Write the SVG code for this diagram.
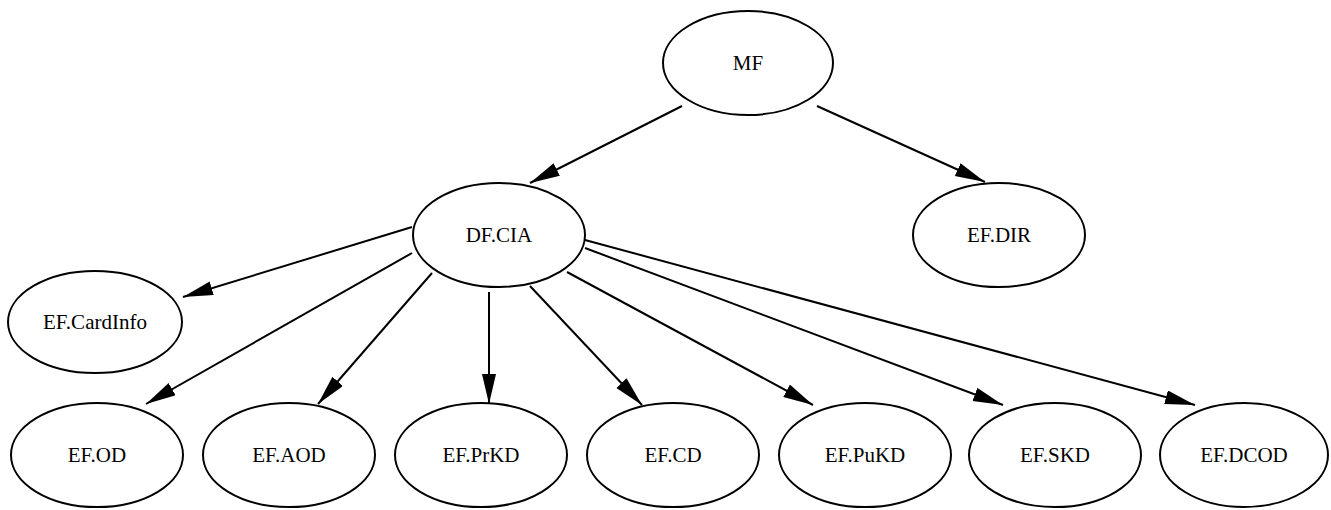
<svg xmlns="http://www.w3.org/2000/svg" width="1331" height="510" viewBox="0 0 1331 510">
<defs>
<style>
.node ellipse{fill:none;stroke:#000;stroke-width:2}
.node text{font-family:"Liberation Serif","Times New Roman",serif;font-size:21px;fill:#000;text-anchor:middle}
.edges line{stroke:#000;stroke-width:2;marker-end:url(#arr)}
</style>
<marker id="arr" markerUnits="userSpaceOnUse" markerWidth="32" markerHeight="16" refX="30" refY="7" orient="auto">
<path d="M0,0 L30,7 L0,14 Z" fill="#000"/>
</marker>
</defs>
<rect width="1331" height="510" fill="#fff"/>
<g class="edges" id="edges">
<line x1="682" y1="106" x2="530" y2="183"/>
<line x1="817" y1="106" x2="985" y2="182"/>
<line x1="412" y1="227" x2="183" y2="297"/>
<line x1="412" y1="253" x2="146" y2="404"/>
<line x1="432" y1="273" x2="318" y2="404"/>
<line x1="489" y1="292" x2="489" y2="404"/>
<line x1="530" y1="286" x2="642" y2="405"/>
<line x1="567" y1="272" x2="813" y2="405"/>
<line x1="585" y1="248" x2="1003" y2="405"/>
<line x1="585" y1="240" x2="1195" y2="405"/>
</g>
<g class="node" id="MF"><ellipse cx="748" cy="63" rx="85" ry="52"/><text x="748" y="70">MF</text></g>
<g class="node" id="DF.CIA"><ellipse cx="499" cy="235" rx="86" ry="52"/><text x="499" y="242">DF.CIA</text></g>
<g class="node" id="EF.DIR"><ellipse cx="999" cy="235" rx="86" ry="52"/><text x="999" y="242">EF.DIR</text></g>
<g class="node" id="EF.CardInfo"><ellipse cx="95" cy="322" rx="87" ry="51"/><text x="95" y="329">EF.CardInfo</text></g>
<g class="node" id="EF.OD"><ellipse cx="97" cy="455" rx="86" ry="52"/><text x="97" y="462">EF.OD</text></g>
<g class="node" id="EF.AOD"><ellipse cx="289" cy="455" rx="86" ry="52"/><text x="289" y="462">EF.AOD</text></g>
<g class="node" id="EF.PrKD"><ellipse cx="481" cy="455" rx="86" ry="52"/><text x="481" y="462">EF.PrKD</text></g>
<g class="node" id="EF.CD"><ellipse cx="673" cy="455" rx="86" ry="52"/><text x="673" y="462">EF.CD</text></g>
<g class="node" id="EF.PuKD"><ellipse cx="865" cy="455" rx="86" ry="52"/><text x="865" y="462">EF.PuKD</text></g>
<g class="node" id="EF.SKD"><ellipse cx="1055" cy="455" rx="86" ry="52"/><text x="1055" y="462">EF.SKD</text></g>
<g class="node" id="EF.DCOD"><ellipse cx="1244" cy="455" rx="84" ry="52"/><text x="1244" y="462">EF.DCOD</text></g>
</svg>
